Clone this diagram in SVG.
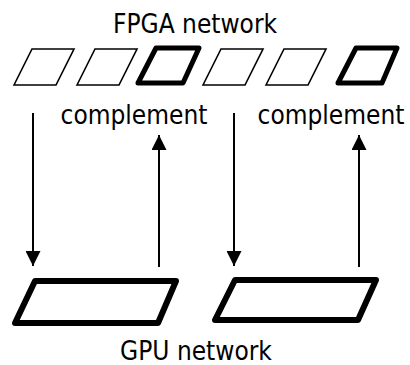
<svg xmlns="http://www.w3.org/2000/svg" width="410" height="365" viewBox="0 0 410 365">
<style>
text{font-family:"DejaVu Sans","Liberation Sans",sans-serif;font-stretch:condensed;font-size:26px;fill:#000;text-anchor:middle}
.thin{fill:#fff;stroke:#000;stroke-width:1.6;stroke-linejoin:miter}
.bold{fill:#fff;stroke:#000;stroke-width:5;stroke-linejoin:round}
.gpu{fill:#fff;stroke:#000;stroke-width:6;stroke-linejoin:round}
.conn{stroke:#000;stroke-width:2;fill:none}
</style>
<defs>
<marker id="ah" viewBox="0 0 10 10" refX="10" refY="5" markerWidth="7.5" markerHeight="7.5" markerUnits="strokeWidth" orient="auto">
<path d="M0,0 L10,5 L0,10 Z" fill="#000"/>
</marker>
</defs>
<text x="195" y="33">FPGA network</text>
<g id="fpga1"><polygon class="thin" points="14,85 32,49 74,49 56,85"/></g>
<g id="fpga2"><polygon class="thin" points="77,85 95,49 137,49 119,85"/></g>
<g id="fpga3"><polygon class="bold" points="138,83 156,48 199,48 183,83"/></g>
<g id="fpga4"><polygon class="thin" points="203,85 221,49 263,49 245,85"/></g>
<g id="fpga5"><polygon class="thin" points="266,85 284,49 326,49 308,85"/></g>
<g id="fpga6"><polygon class="bold" points="338,83 356,48 397,48 382,83"/></g>
<g id="gpu1"><polygon class="gpu" points="15,323 35,281 176,281 158,323"/></g>
<g id="gpu2"><polygon class="gpu" points="215,320 235,280 376,280 358,320"/></g>
<text x="134" y="124">complement</text>
<text x="331" y="124">complement</text>
<text x="196" y="360">GPU network</text>
<g id="connectors">
<line class="conn" x1="33" y1="113" x2="33" y2="266" marker-end="url(#ah)"/>
<line class="conn" x1="159" y1="267" x2="159" y2="135" marker-end="url(#ah)"/>
<line class="conn" x1="234" y1="113" x2="234" y2="266" marker-end="url(#ah)"/>
<line class="conn" x1="359" y1="267" x2="359" y2="135" marker-end="url(#ah)"/>
</g>
</svg>
